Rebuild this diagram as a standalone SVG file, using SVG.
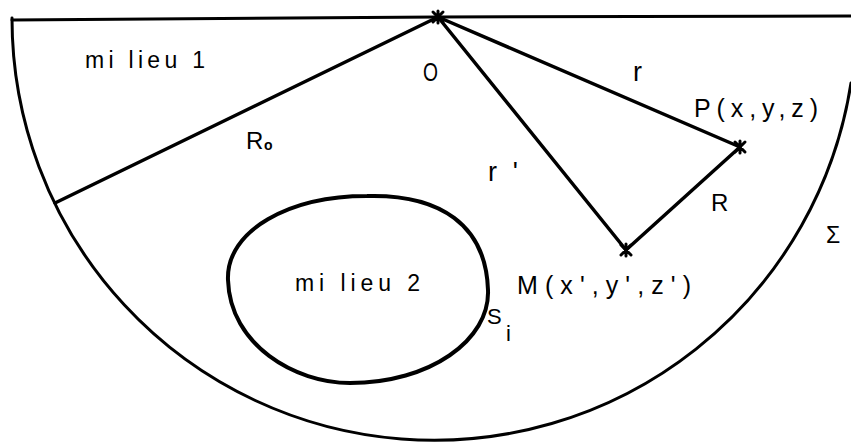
<svg xmlns="http://www.w3.org/2000/svg" width="851" height="442" viewBox="0 0 851 442">
<style>
  .ln { stroke:#000; stroke-width:3.5; fill:none; stroke-linecap:round; stroke-linejoin:round; }
  .bd { stroke:#000; stroke-width:3; fill:none; stroke-linecap:round; }
  .in { stroke:#000; stroke-width:4; fill:none; }
  .mk { stroke:#000; stroke-width:3; stroke-linecap:round; fill:none; }
  text { font-family:"Liberation Sans","DejaVu Sans",sans-serif; fill:#000; }
</style>
<defs>
  <g id="star">
    <path class="mk" d="M-5,-5 L5,5 M-5,5 L5,-5 M0,-6 L0,6"/>
  </g>
</defs>
<rect width="851" height="442" fill="#fff"/>

<g id="sigma-boundary">
  <path class="bd" d="M12,20 L438,17 L851,16"/>
  <path class="bd" d="M12,18 A422,422 0 0 0 851,83"/>
  <text x="826" y="243" font-size="23">Σ</text>
</g>

<g id="milieu1">
  <text x="85" y="68" font-size="23" textLength="120" lengthAdjust="spacing">mi lieu 1</text>
</g>

<g id="milieu2">
  <path class="in" d="M367,196 C440,194 486,225 488,290 C490,340 430,383 350,383 C295,383 230,345 228,280 C226,230 290,196 367,196 Z"/>
  <text x="295" y="291" font-size="23" textLength="125" lengthAdjust="spacing">mi lieu 2</text>
  <text x="487" y="324" font-size="22">S</text>
  <text x="506" y="341" font-size="22">i</text>
</g>

<g id="connectors">
  <line class="ln" x1="438" y1="17" x2="55" y2="203"/>
  <line class="ln" x1="438" y1="17" x2="740" y2="147"/>
  <line class="ln" x1="438" y1="17" x2="626" y2="250"/>
  <line class="ln" x1="740" y1="147" x2="626" y2="250"/>
  <text x="246" y="149" font-size="24">R</text>
  <text x="264" y="150" font-size="14" font-weight="bold">o</text>
  <text x="633" y="81" font-size="27">r</text>
  <text x="488" y="181" font-size="27" textLength="30" lengthAdjust="spacing">r'</text>
  <text x="711" y="211" font-size="24">R</text>
</g>

<g id="O">
  <use href="#star" x="438" y="17"/>
  <text x="423" y="81" font-size="25" textLength="15" lengthAdjust="spacingAndGlyphs">O</text>
</g>

<g id="P">
  <use href="#star" x="740" y="147"/>
  <text x="694" y="117" font-size="25" textLength="124" lengthAdjust="spacing">P(x,y,z)</text>
</g>

<g id="M">
  <use href="#star" x="626" y="250"/>
  <text x="517" y="294" font-size="25" textLength="174" lengthAdjust="spacing">M(x',y',z')</text>
</g>
</svg>
